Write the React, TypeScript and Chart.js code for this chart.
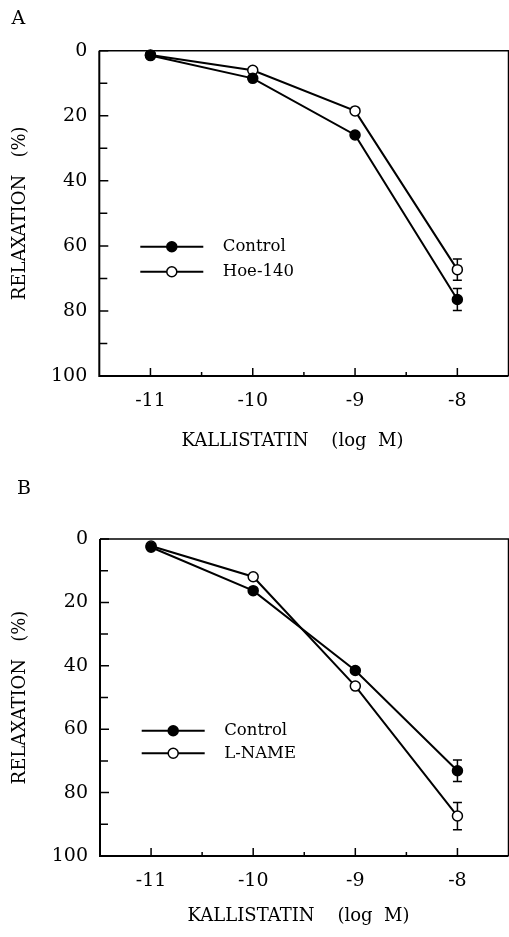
import React, { useEffect, useRef } from "react";
import { Chart, registerables } from "chart.js";

Chart.register(...registerables);

// ---- data ----
const xValues = [-11, -10, -9, -8];
const xTickValues = [-11, -10, -9, -8];
const xMinorTickValues = [-10.5, -9.5, -8.5];
const yTickValues = [0, 20, 40, 60, 80, 100];
const yMinorTickValues = [10, 30, 50, 70, 90];

const panelAControl = [1.5, 8.5, 25.9, 76.5];
const panelAControlErr = [0, 0, 0, 3.4];
const panelAHoe = [1.3, 6.0, 18.5, 67.3];
const panelAHoeErr = [0, 0, 0, 3.3];
const panelALabels = ["Control", "Hoe-140"];

const panelBControl = [2.6, 16.3, 41.5, 73.1];
const panelBControlErr = [0, 0, 0, 3.4];
const panelBLName = [2.2, 11.9, 46.4, 87.4];
const panelBLNameErr = [0, 0, 0, 4.3];
const panelBLabels = ["Control", "L-NAME"];

const xTitleA = "KALLISTATIN    (log  M)    ";
const xTitleB = "KALLISTATIN    (log  M)  ";
const yTitle = "RELAXATION   (%)";

const SERIF = "'DejaVu Serif', serif";

type PanelCfg = {
  letter: string;
  letterX: number;
  letterBaseline: number;
  height: number;
  padTop: number;
  yAxisWidth: number;
  xAxisHeight: number;
  xTitle: string;
  xTitlePadBottom: number;
  legendLeft: number;
  legendTop: number;
  legendGap: number;
  series: { label: string; values: number[]; errors: number[]; filled: boolean }[];
};

const decorPlugin = {
  id: "decor",
  beforeDatasetsDraw(chart: any) {
    const { ctx, chartArea: ca } = chart;
    const xs = chart.scales.x;
    const ys = chart.scales.y;
    ctx.save();
    ctx.strokeStyle = "#000";
    ctx.lineCap = "butt";
    // frame
    ctx.lineWidth = 2;
    ctx.beginPath();
    ctx.moveTo(ca.left, ca.top);
    ctx.lineTo(ca.left, ca.bottom);
    ctx.lineTo(ca.right, ca.bottom);
    ctx.stroke();
    ctx.lineWidth = 1.5;
    ctx.beginPath();
    ctx.moveTo(ca.left, ca.top);
    ctx.lineTo(ca.right, ca.top);
    ctx.lineTo(ca.right, ca.bottom);
    ctx.stroke();
    // inward ticks
    ctx.lineWidth = 1.5;
    ctx.beginPath();
    yTickValues.forEach((v) => {
      const p = ys.getPixelForValue(v);
      ctx.moveTo(ca.left, p);
      ctx.lineTo(ca.left + 9, p);
    });
    yMinorTickValues.forEach((v) => {
      const p = ys.getPixelForValue(v);
      ctx.moveTo(ca.left, p);
      ctx.lineTo(ca.left + 8, p);
    });
    xTickValues.forEach((v) => {
      const p = xs.getPixelForValue(v);
      ctx.moveTo(p, ca.bottom);
      ctx.lineTo(p, ca.bottom - 8);
    });
    xMinorTickValues.forEach((v) => {
      const p = xs.getPixelForValue(v);
      ctx.moveTo(p, ca.bottom);
      ctx.lineTo(p, ca.bottom - 4);
    });
    ctx.stroke();
    // error bars
    ctx.lineWidth = 1.5;
    chart.data.datasets.forEach((ds: any) => {
      const errs: number[] = ds.errors || [];
      ds.data.forEach((pt: any, j: number) => {
        const e = errs[j];
        if (!e) return;
        const px = xs.getPixelForValue(pt.x);
        const yTop = ys.getPixelForValue(pt.y - e);
        const yBot = ys.getPixelForValue(pt.y + e);
        ctx.beginPath();
        ctx.moveTo(px, yTop);
        ctx.lineTo(px, yBot);
        ctx.moveTo(px - 4.5, yTop);
        ctx.lineTo(px + 4.5, yTop);
        ctx.moveTo(px - 4.5, yBot);
        ctx.lineTo(px + 4.5, yBot);
        ctx.stroke();
      });
    });
    ctx.restore();
  },
  afterDraw(chart: any, _args: any, opts: any) {
    const { ctx, chartArea: ca } = chart;
    ctx.save();
    // panel letter
    ctx.fillStyle = "#000";
    ctx.font = `19px ${SERIF}`;
    ctx.textAlign = "left";
    ctx.textBaseline = "alphabetic";
    ctx.fillText(opts.letter, opts.letterX, opts.letterBaseline);
    // legend
    chart.data.datasets.forEach((ds: any, i: number) => {
      const y = ca.top + opts.legendTop + i * opts.legendGap;
      const x0 = ca.left + opts.legendLeft;
      const x1 = x0 + 63;
      ctx.strokeStyle = "#000";
      ctx.lineWidth = 2;
      ctx.beginPath();
      ctx.moveTo(x0, y);
      ctx.lineTo(x1, y);
      ctx.stroke();
      ctx.beginPath();
      ctx.arc((x0 + x1) / 2, y, 5, 0, Math.PI * 2);
      ctx.fillStyle = ds.pointBackgroundColor;
      ctx.fill();
      ctx.lineWidth = 1.5;
      ctx.stroke();
      ctx.fillStyle = "#000";
      ctx.font = `16.5px ${SERIF}`;
      ctx.textBaseline = "middle";
      ctx.fillText(ds.label, x1 + 19.5, y);
    });
    ctx.restore();
  },
};

function Panel({ cfg }: { cfg: PanelCfg }) {
  const ref = useRef<HTMLCanvasElement | null>(null);
  useEffect(() => {
    if (!ref.current) return;
    const chart = new Chart(ref.current, {
      type: "line",
      data: {
        datasets: cfg.series.map((s) => ({
          label: s.label,
          data: xValues.map((x, i) => ({ x, y: s.values[i] })),
          errors: s.errors,
          borderColor: "#000",
          borderWidth: 2,
          pointRadius: 5,
          pointHoverRadius: 5,
          pointBorderWidth: 1.5,
          pointBorderColor: "#000",
          pointBackgroundColor: s.filled ? "#000" : "#fff",
          tension: 0,
          clip: false,
        })) as any,
      },
      options: {
        animation: false,
        responsive: false,
        events: [],
        layout: {
          autoPadding: false,
          padding: { top: cfg.padTop, right: 0.5, left: 0, bottom: 0 },
        },
        plugins: {
          legend: { display: false },
          tooltip: { enabled: false },
          decor: cfg as any,
        } as any,
        scales: {
          x: {
            type: "linear",
            min: -11.5,
            max: -7.5,
            grid: { display: false, drawTicks: false },
            border: { display: false },
            afterBuildTicks: (s: any) => {
              s.ticks = xTickValues.map((v) => ({ value: v }));
            },
            afterFit: (s: any) => {
              s.height = cfg.xAxisHeight;
              s.paddingLeft = 0;
              s.paddingRight = 0;
            },
            ticks: {
              padding: 14,
              color: "#000",
              font: { family: SERIF, size: 19 },
              callback: (v: any) => String(v),
            },
            title: {
              display: true,
              text: cfg.xTitle,
              color: "#000",
              font: { family: SERIF, size: 18 },
              padding: { top: 0, bottom: cfg.xTitlePadBottom },
            },
          },
          y: {
            type: "linear",
            reverse: true,
            min: 0,
            max: 100,
            grid: { display: false, drawTicks: false },
            border: { display: false },
            afterBuildTicks: (s: any) => {
              s.ticks = yTickValues.map((v) => ({ value: v }));
            },
            afterFit: (s: any) => {
              s.width = cfg.yAxisWidth;
              s.paddingTop = 0;
              s.paddingBottom = 0;
            },
            ticks: {
              padding: 12,
              color: "#000",
              font: { family: SERIF, size: 19 },
            },
            title: {
              display: true,
              text: yTitle,
              color: "#000",
              font: { family: SERIF, size: 18 },
              padding: { top: 10, bottom: 0 },
            },
          },
        },
      } as any,
      plugins: [decorPlugin as any],
    });
    return () => chart.destroy();
  }, [cfg]);
  return (
    <canvas
      ref={ref}
      width={509}
      height={cfg.height}
      style={{ display: "block", width: 509, height: cfg.height }}
    />
  );
}

const panelA: PanelCfg = {
  letter: "A",
  letterX: 11.5,
  letterBaseline: 23.5,
  height: 468,
  padTop: 50.7,
  yAxisWidth: 99.3,
  xAxisHeight: 92,
  xTitle: xTitleA,
  xTitlePadBottom: 15.5,
  legendLeft: 41,
  legendTop: 196,
  legendGap: 25,
  series: [
    { label: panelALabels[0], values: panelAControl, errors: panelAControlErr, filled: true },
    { label: panelALabels[1], values: panelAHoe, errors: panelAHoeErr, filled: false },
  ],
};

const panelB: PanelCfg = {
  letter: "B",
  letterX: 17,
  letterBaseline: 25.5,
  height: 469,
  padTop: 71,
  yAxisWidth: 100,
  xAxisHeight: 81,
  xTitle: xTitleB,
  xTitlePadBottom: 9.5,
  legendLeft: 41.7,
  legendTop: 191.7,
  legendGap: 22.6,
  series: [
    { label: panelBLabels[0], values: panelBControl, errors: panelBControlErr, filled: true },
    { label: panelBLabels[1], values: panelBLName, errors: panelBLNameErr, filled: false },
  ],
};

export default function App() {
  return (
    <div
      style={{
        position: "absolute",
        left: 0,
        top: 0,
        width: 509,
        height: 937,
        background: "#fff",
      }}
    >
      <Panel cfg={panelA} />
      <Panel cfg={panelB} />
    </div>
  );
}
